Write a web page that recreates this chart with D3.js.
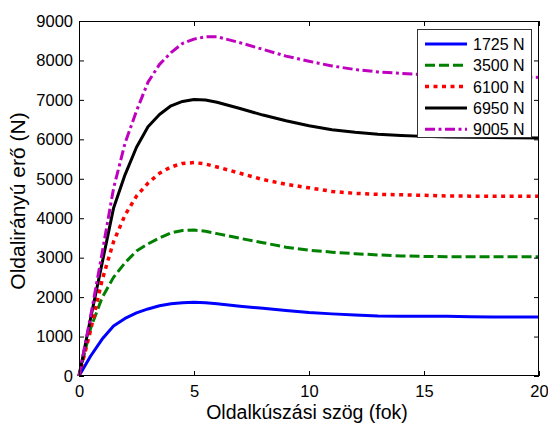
<!DOCTYPE html>
<html><head><meta charset="utf-8">
<script src="https://cdn.jsdelivr.net/npm/d3@7/dist/d3.min.js"></script>
<style>body{margin:0;background:#fff;}svg{display:block;font-family:"Liberation Sans",Arial,sans-serif;}</style>
</head><body>
<script>
const xs = [0,0.5,1,1.5,2,2.5,3,3.5,4,4.5,5,5.5,6,7,8,9,10,11,12,13,14,15,16,17,18,19,20];
const s1725 = [0,500,930,1270,1460,1600,1700,1780,1830,1860,1870,1855,1830,1770,1715,1660,1610,1575,1545,1522,1515,1515,1512,1500,1497,1495,1495];
const s3500 = [0,1200,1980,2500,2870,3170,3350,3500,3630,3690,3700,3670,3610,3490,3380,3265,3190,3140,3100,3070,3045,3030,3025,3025,3025,3025,3025];
const s6100 = [0,1150,2420,3400,4080,4560,4890,5140,5300,5390,5410,5375,5300,5140,4980,4860,4770,4680,4630,4605,4595,4580,4565,4560,4560,4560,4560];
const s6950 = [0,1450,2850,4250,5100,5800,6320,6630,6850,6960,7010,6995,6940,6780,6615,6470,6345,6245,6180,6130,6100,6075,6060,6050,6045,6040,6035];
const s9005 = [0,1500,3100,4750,5900,6720,7450,7900,8200,8430,8540,8600,8600,8450,8280,8110,7980,7860,7770,7710,7670,7640,7620,7600,7590,7580,7570];
const labels = ["1725 N","3500 N","6100 N","6950 N","9005 N"];
const colors = ["#0000ff","#008000","#ff0000","#000000","#bf00bf"];
const dashes = [null,"10,4","4,4.5",null,"10,3.5,3,3.5"];
const widths = [3,3,3.5,3,3];
const xTicks = [0,5,10,15,20];
const yTicks = [0,1000,2000,3000,4000,5000,6000,7000,8000,9000];
const series = [s1725,s3500,s6100,s6950,s9005];

const W=548,H=426, L=79,R=539,T=21,B=376;
const svg=d3.select("body").append("svg").attr("width",W).attr("height",H);
const x=d3.scaleLinear().domain([0,20]).range([L,R]);
const y=d3.scaleLinear().domain([0,9000]).range([B,T]);

const line=d3.line().x((d,i)=>x(xs[i])).y(d=>y(d));
series.forEach((s,k)=>{
  svg.append("path").datum(s).attr("d",line).attr("fill","none")
    .attr("stroke",colors[k]).attr("stroke-width",widths[k])
    .attr("stroke-dasharray",dashes[k]).attr("stroke-linejoin","round");
});

// box & axes
const ax=svg.append("g").attr("fill","none").attr("stroke","#000").attr("stroke-width",1);
ax.append("rect").attr("x",L+0.5).attr("y",T+0.5).attr("width",R-L-1).attr("height",B-T-1);
const gBottom=svg.append("g").attr("transform",`translate(0,${B})`)
  .call(d3.axisBottom(x).tickValues(xTicks).tickSize(-5).tickPadding(9).tickFormat(d3.format("d")));
const gTop=svg.append("g").attr("transform",`translate(0,${T})`)
  .call(d3.axisTop(x).tickValues(xTicks).tickSize(-5).tickFormat(""));
const gLeft=svg.append("g").attr("transform",`translate(${L},0)`)
  .call(d3.axisLeft(y).tickValues(yTicks).tickSize(-5).tickPadding(6).tickFormat(d3.format("d")));
const gRight=svg.append("g").attr("transform",`translate(${R},0)`)
  .call(d3.axisRight(y).tickValues(yTicks).tickSize(-5).tickFormat(""));
[gBottom,gTop,gLeft,gRight].forEach(g=>{g.select(".domain").remove();g.selectAll("text").attr("font-size",16.5).attr("fill","#000").attr("font-family","Liberation Sans, Arial, sans-serif");});

svg.append("text").attr("x",307).attr("y",419).attr("text-anchor","middle").attr("font-size",19.5).text("Oldalkúszási szög (fok)");
svg.append("text").attr("transform","translate(25,201) rotate(-90)").attr("text-anchor","middle").attr("font-size",21).text("Oldalirányú erő (N)");

// legend
const lg=svg.append("g");
lg.append("rect").attr("x",417.5).attr("y",29.5).attr("width",114).attr("height",108).attr("fill","#fff").attr("stroke","#333");
labels.forEach((t,k)=>{
  const yy=44+k*21.3;
  lg.append("line").attr("x1",425).attr("x2",467).attr("y1",yy).attr("y2",yy)
    .attr("stroke",colors[k]).attr("stroke-width",widths[k]).attr("stroke-dasharray",dashes[k]);
  lg.append("text").attr("x",473).attr("y",yy+6).attr("font-size",16).text(t);
});
</script>
</body></html>
